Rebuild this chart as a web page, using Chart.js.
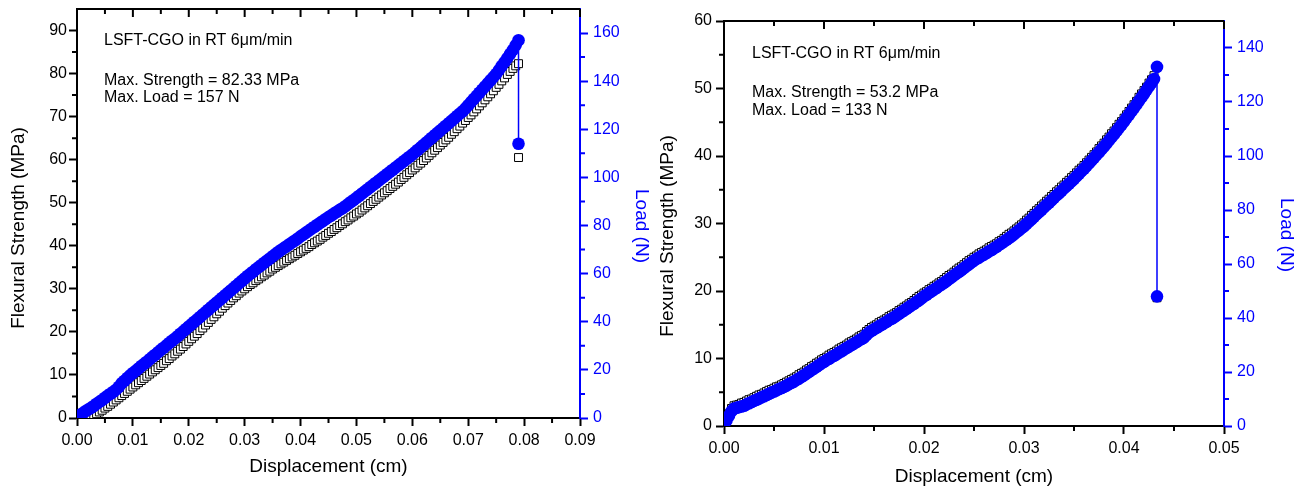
<!DOCTYPE html>
<html>
<head>
<meta charset="utf-8">
<script src="https://cdn.jsdelivr.net/npm/chart.js@4.4.1/dist/chart.umd.min.js"></script>
<style>
  html, body { margin: 0; padding: 0; background: #fff; }
  #wrap { position: relative; width: 1299px; height: 488px; overflow: hidden; }
  #left { position: absolute; left: 0; top: 0; }
  #right { position: absolute; left: 650px; top: 0; }
</style>
</head>
<body>
<div id="wrap">
  <canvas id="left" width="650" height="488"></canvas>
  <canvas id="right" width="649" height="488"></canvas>
</div>
<script>
// left panel: displacement (cm), flexural strength (MPa), load (N)
const leftDisp = [
  0, 0.0005, 0.001, 0.0015, 0.002, 0.0025, 0.003, 0.0035, 0.004, 0.0045,
  0.005, 0.0055, 0.006, 0.0065, 0.007, 0.0075, 0.008, 0.0085, 0.009, 0.0095,
  0.010, 0.0105, 0.011, 0.0115, 0.012, 0.0125, 0.013, 0.0135, 0.014, 0.0145,
  0.015, 0.0155, 0.016, 0.0165, 0.017, 0.0175, 0.018, 0.0185, 0.019, 0.0195,
  0.020, 0.0205, 0.021, 0.0215, 0.022, 0.0225, 0.023, 0.0235, 0.024, 0.0245,
  0.025, 0.0255, 0.026, 0.0265, 0.027, 0.0275, 0.028, 0.0285, 0.029, 0.0295,
  0.030, 0.0305, 0.031, 0.0315, 0.032, 0.0325, 0.033, 0.0335, 0.034, 0.0345,
  0.035, 0.0355, 0.036, 0.0365, 0.037, 0.0375, 0.038, 0.0385, 0.039, 0.0395,
  0.040, 0.0405, 0.041, 0.0415, 0.042, 0.0425, 0.043, 0.0435, 0.044, 0.0445,
  0.045, 0.0455, 0.046, 0.0465, 0.047, 0.0475, 0.048, 0.0485, 0.049, 0.0495,
  0.050, 0.0505, 0.051, 0.0515, 0.052, 0.0525, 0.053, 0.0535, 0.054, 0.0545,
  0.055, 0.0555, 0.056, 0.0565, 0.057, 0.0575, 0.058, 0.0585, 0.059, 0.0595,
  0.060, 0.0605, 0.061, 0.0615, 0.062, 0.0625, 0.063, 0.0635, 0.064, 0.0645,
  0.065, 0.0655, 0.066, 0.0665, 0.067, 0.0675, 0.068, 0.0685, 0.069, 0.0695,
  0.070, 0.0705, 0.071, 0.0715, 0.072, 0.0725, 0.073, 0.0735, 0.074, 0.0745,
  0.075, 0.0755, 0.076, 0.0765, 0.077, 0.0775, 0.078, 0.0785, 0.079, 0.079
];
const leftStrength = [
  null, null, null, null, 0.0, 0.3, 0.6, 1.0, 1.4, 1.8,
  2.3, 2.7, 3.2, 3.7, 4.2, 4.7, 5.2, 5.7, 6.2, 6.7,
  7.2, 7.7, 8.2, 8.7, 9.2, 9.7, 10.2, 10.7, 11.2, 11.7,
  12.2, 12.7, 13.3, 13.8, 14.4, 14.9, 15.5, 16.0, 16.6, 17.2,
  17.8, 18.4, 19.0, 19.6, 20.3, 20.9, 21.6, 22.2, 22.9, 23.5,
  24.2, 24.8, 25.5, 26.1, 26.7, 27.3, 27.9, 28.4, 29.0, 29.5,
  30.0, 30.5, 31.0, 31.4, 31.9, 32.3, 32.8, 33.2, 33.7, 34.1,
  34.6, 35.0, 35.4, 35.8, 36.2, 36.6, 37.0, 37.4, 37.8, 38.2,
  38.6, 39.0, 39.4, 39.8, 40.3, 40.7, 41.1, 41.5, 42.0, 42.4,
  42.9, 43.3, 43.8, 44.2, 44.7, 45.1, 45.6, 46.0, 46.5, 46.9,
  47.4, 47.8, 48.3, 48.8, 49.3, 49.8, 50.3, 50.8, 51.3, 51.8,
  52.3, 52.8, 53.3, 53.8, 54.3, 54.8, 55.4, 55.9, 56.5, 57.0,
  57.6, 58.1, 58.7, 59.2, 59.8, 60.4, 61.0, 61.6, 62.2, 62.8,
  63.4, 64.0, 64.6, 65.2, 65.9, 66.5, 67.2, 67.8, 68.5, 69.1,
  69.8, 70.4, 71.1, 71.8, 72.5, 73.2, 73.9, 74.6, 75.3, 76.0,
  76.8, 77.5, 78.3, 79.0, 79.8, 80.5, 81.2, 81.8, 82.3, 60.5
];
const leftLoad = [
  0.5, 1.2, 2.0, 2.8, 3.5, 4.2, 5.0, 5.9, 6.7, 7.5,
  8.4, 9.3, 10.1, 10.9, 11.8, 13.0, 14.5, 15.5, 16.6, 17.7,
  18.7, 19.6, 20.6, 21.6, 22.5, 23.4, 24.4, 25.4, 26.3, 27.3,
  28.3, 29.2, 30.2, 31.2, 32.1, 33.0, 34.0, 35.0, 36.0, 37.0,
  38.0, 39.0, 40.0, 41.0, 42.0, 43.0, 44.0, 45.0, 46.0, 47.0,
  48.0, 49.0, 50.0, 51.0, 52.0, 53.0, 54.0, 55.0, 56.0, 57.0,
  58.0, 59.0, 59.9, 60.8, 61.8, 62.7, 63.6, 64.5, 65.4, 66.3,
  67.2, 68.1, 69.0, 69.8, 70.6, 71.4, 72.2, 73.0, 73.8, 74.6,
  75.5, 76.3, 77.1, 77.9, 78.7, 79.5, 80.3, 81.1, 81.9, 82.7,
  83.5, 84.2, 85.0, 85.7, 86.5, 87.2, 88.0, 88.9, 89.8, 90.6,
  91.5, 92.4, 93.3, 94.2, 95.1, 96.0, 96.9, 97.8, 98.7, 99.6,
  100.5, 101.4, 102.3, 103.2, 104.1, 105.0, 105.9, 106.8, 107.7, 108.6,
  109.5, 110.5, 111.5, 112.5, 113.5, 114.5, 115.5, 116.5, 117.5, 118.5,
  119.5, 120.5, 121.5, 122.5, 123.5, 124.5, 125.5, 126.5, 127.5, 128.7,
  130.0, 131.3, 132.6, 133.9, 135.2, 136.5, 137.8, 139.1, 140.4, 141.7,
  143.0, 144.6, 146.3, 147.9, 149.6, 151.3, 153.0, 155.0, 157.0, 114.0
];

// right panel
const rightDisp = [
  0, 0.00025, 0.0005, 0.00075, 0.001, 0.00125, 0.0015, 0.00175,
  0.002, 0.00225, 0.0025, 0.00275, 0.003, 0.00325, 0.0035, 0.00375,
  0.004, 0.00425, 0.0045, 0.00475, 0.005, 0.00525, 0.0055, 0.00575,
  0.006, 0.00625, 0.0065, 0.00675, 0.007, 0.00725, 0.0075, 0.00775,
  0.008, 0.00825, 0.0085, 0.00875, 0.009, 0.00925, 0.0095, 0.00975,
  0.010, 0.01025, 0.0105, 0.01075, 0.011, 0.01125, 0.0115, 0.01175,
  0.012, 0.01225, 0.0125, 0.01275, 0.013, 0.01325, 0.0135, 0.01375,
  0.014, 0.01425, 0.0145, 0.01475, 0.015, 0.01525, 0.0155, 0.01575,
  0.016, 0.01625, 0.0165, 0.01675, 0.017, 0.01725, 0.0175, 0.01775,
  0.018, 0.01825, 0.0185, 0.01875, 0.019, 0.01925, 0.0195, 0.01975,
  0.020, 0.02025, 0.0205, 0.02075, 0.021, 0.02125, 0.0215, 0.02175,
  0.022, 0.02225, 0.0225, 0.02275, 0.023, 0.02325, 0.0235, 0.02375,
  0.024, 0.02425, 0.0245, 0.02475, 0.025, 0.02525, 0.0255, 0.02575,
  0.026, 0.02625, 0.0265, 0.02675, 0.027, 0.02725, 0.0275, 0.02775,
  0.028, 0.02825, 0.0285, 0.02875, 0.029, 0.02925, 0.0295, 0.02975,
  0.030, 0.03025, 0.0305, 0.03075, 0.031, 0.03125, 0.0315, 0.03175,
  0.032, 0.03225, 0.0325, 0.03275, 0.033, 0.03325, 0.0335, 0.03375,
  0.034, 0.03425, 0.0345, 0.03475, 0.035, 0.03525, 0.0355, 0.03575,
  0.036, 0.03625, 0.0365, 0.03675, 0.037, 0.03725, 0.0375, 0.03775,
  0.038, 0.03825, 0.0385, 0.03875, 0.039, 0.03925, 0.0395, 0.03975,
  0.040, 0.04025, 0.0405, 0.04075, 0.041, 0.04125, 0.0415, 0.04175,
  0.042, 0.04225, 0.0425, 0.04275, 0.043, 0.0433, 0.0433
];
const rightStrength = [
  0.3, 1.0, 1.8, 2.6, 3.0, 3.1, 3.2, 3.4,
  3.5, 3.7, 3.9, 4.0, 4.2, 4.4, 4.6, 4.7,
  4.9, 5.1, 5.3, 5.4, 5.6, 5.8, 5.9, 6.1,
  6.3, 6.5, 6.7, 6.9, 7.1, 7.3, 7.6, 7.8,
  8.0, 8.3, 8.5, 8.8, 9.0, 9.3, 9.5, 9.8,
  10.0, 10.2, 10.5, 10.7, 10.9, 11.1, 11.4, 11.6,
  11.8, 12.0, 12.3, 12.5, 12.7, 12.9, 13.2, 13.4,
  13.6, 14.0, 14.3, 14.6, 14.8, 15.0, 15.3, 15.5,
  15.7, 15.9, 16.2, 16.4, 16.6, 16.8, 17.1, 17.3,
  17.6, 17.8, 18.1, 18.3, 18.6, 18.9, 19.2, 19.4,
  19.7, 19.9, 20.2, 20.4, 20.7, 20.9, 21.2, 21.4,
  21.7, 22.0, 22.3, 22.5, 22.8, 23.1, 23.4, 23.6,
  23.9, 24.2, 24.5, 24.7, 25.0, 25.2, 25.5, 25.7,
  25.9, 26.1, 26.4, 26.6, 26.8, 27.0, 27.3, 27.5,
  27.8, 28.1, 28.4, 28.6, 28.9, 29.2, 29.5, 29.8,
  30.1, 30.5, 30.8, 31.2, 31.5, 31.9, 32.2, 32.6,
  32.9, 33.3, 33.6, 34.0, 34.3, 34.7, 35.0, 35.4,
  35.7, 36.1, 36.4, 36.8, 37.1, 37.5, 37.9, 38.2,
  38.6, 39.0, 39.4, 39.8, 40.2, 40.6, 41.1, 41.5,
  41.9, 42.4, 42.8, 43.3, 43.7, 44.2, 44.7, 45.1,
  45.6, 46.1, 46.6, 47.1, 47.6, 48.1, 48.7, 49.2,
  49.7, 50.2, 50.8, 51.3, 51.9, 53.2, 19.0
];
const rightLoad = [
  0.5, 2.0, 3.8, 5.5, 6.5, 6.7, 7.0, 7.2,
  7.5, 8.0, 8.4, 8.9, 9.3, 9.7, 10.2, 10.6,
  11.0, 11.5, 11.9, 12.4, 12.8, 13.2, 13.7, 14.1,
  14.5, 15.0, 15.5, 16.0, 16.5, 17.1, 17.6, 18.2,
  18.8, 19.4, 20.1, 20.7, 21.3, 21.9, 22.6, 23.2,
  23.8, 24.4, 24.9, 25.5, 26.0, 26.6, 27.2, 27.7,
  28.3, 28.9, 29.4, 30.0, 30.5, 31.1, 31.7, 32.2,
  32.8, 33.8, 34.6, 35.3, 35.8, 36.4, 36.9, 37.5,
  38.0, 38.6, 39.2, 39.7, 40.3, 40.9, 41.6, 42.2,
  42.8, 43.4, 44.1, 44.7, 45.3, 46.0, 46.6, 47.3,
  48.0, 48.6, 49.3, 49.9, 50.5, 51.1, 51.8, 52.4,
  53.0, 53.7, 54.4, 55.1, 55.8, 56.5, 57.1, 57.8,
  58.5, 59.2, 59.9, 60.6, 61.3, 61.9, 62.4, 63.0,
  63.5, 64.1, 64.7, 65.2, 65.8, 66.4, 67.1, 67.7,
  68.3, 69.0, 69.6, 70.3, 71.0, 71.8, 72.5, 73.3,
  74.0, 74.9, 75.7, 76.6, 77.5, 78.4, 79.2, 80.1,
  81.0, 81.9, 82.7, 83.6, 84.5, 85.4, 86.2, 87.1,
  88.0, 88.9, 89.7, 90.6, 91.5, 92.5, 93.4, 94.4,
  95.3, 96.3, 97.3, 98.3, 99.3, 100.4, 101.4, 102.5,
  103.5, 104.6, 105.8, 106.9, 108.0, 109.2, 110.4, 111.6,
  112.8, 114.1, 115.3, 116.6, 117.8, 119.1, 120.4, 121.7,
  123.0, 124.4, 125.8, 127.1, 128.5, 133.0, 48.0
];

// tick labels
const leftXTicks = [0, 0.01, 0.02, 0.03, 0.04, 0.05, 0.06, 0.07, 0.08, 0.09];
const leftYTicks = [0, 10, 20, 30, 40, 50, 60, 70, 80, 90];
const leftLoadTicks = [0, 20, 40, 60, 80, 100, 120, 140, 160];
const rightXTicks = [0, 0.01, 0.02, 0.03, 0.04, 0.05];
const rightYTicks = [0, 10, 20, 30, 40, 50, 60];
const rightLoadTicks = [0, 20, 40, 60, 80, 100, 120, 140];

const leftNotes = ['LSFT-CGO in RT 6\u03bcm/min', 'Max. Strength = 82.33 MPa', 'Max. Load = 157 N'];
const rightNotes = ['LSFT-CGO in RT 6\u03bcm/min', 'Max. Strength = 53.2 MPa', 'Max. Load = 133 N'];

const BLUE = '#0000ff';
const FONT = "'Liberation Sans', Arial, sans-serif";

function points(xs, ys) {
    return xs.map((x, i) => ({x: x, y: ys[i]})).filter(p => p.y !== null);
}

function mids(t) {
    const m = [];
    for (let i = 1; i < t.length; i++) m.push((t[i - 1] + t[i]) / 2);
    return m;
}

function setTicks(vals) {
    return scale => { scale.ticks = vals.map(v => ({value: v})); };
}

function fitBox(prop, size) {
    return scale => {
        scale[prop] = size;
        scale.paddingTop = 0;
        scale.paddingBottom = 0;
        scale.paddingLeft = 0;
        scale.paddingRight = 0;
    };
}

// minor ticks, mirrored top ticks, notes and y titles
function framePlugin(o) {
    return {
        id: 'frame',
        afterDraw(chart) {
            const {ctx, chartArea: a, scales} = chart;
            const x = scales.x, y = scales.y, y1 = scales.y1;
            ctx.save();
            ctx.lineWidth = 2;
            ctx.strokeStyle = '#000';
            ctx.beginPath();
            ctx.moveTo(a.left - 1, a.top);
            ctx.lineTo(a.right, a.top);
            o.xTicks.forEach(v => {
                const p = x.getPixelForValue(v);
                ctx.moveTo(p, a.top);
                ctx.lineTo(p, a.top + 8);
            });
            mids(o.xTicks).forEach(v => {
                const p = x.getPixelForValue(v);
                ctx.moveTo(p, a.top);
                ctx.lineTo(p, a.top + 5);
                ctx.moveTo(p, a.bottom);
                ctx.lineTo(p, a.bottom + 5);
            });
            mids(o.yTicks).forEach(v => {
                const p = y.getPixelForValue(v);
                ctx.moveTo(a.left - 5, p);
                ctx.lineTo(a.left, p);
            });
            ctx.stroke();

            ctx.strokeStyle = BLUE;
            ctx.beginPath();
            mids(o.loadTicks).forEach(v => {
                const p = y1.getPixelForValue(v);
                ctx.moveTo(a.right, p);
                ctx.lineTo(a.right + 5, p);
            });
            ctx.stroke();

            ctx.fillStyle = '#000';
            ctx.font = '16px ' + FONT;
            ctx.textAlign = 'left';
            ctx.textBaseline = 'middle';
            o.notes.forEach((t, i) => ctx.fillText(t, o.noteX, o.noteY[i]));

            ctx.font = '19px ' + FONT;
            ctx.textAlign = 'center';
            ctx.save();
            ctx.translate(o.yTitle[0], o.yTitle[1]);
            ctx.rotate(-Math.PI / 2);
            ctx.fillText('Flexural Strength (MPa)', 0, 0);
            ctx.restore();

            ctx.fillStyle = BLUE;
            ctx.save();
            ctx.translate(o.loadTitle[0], o.loadTitle[1]);
            ctx.rotate(Math.PI / 2);
            ctx.fillText('Load (N)', 0, 0);
            ctx.restore();
            ctx.restore();
        }
    };
}

function buildChart(id, o) {
    const tickFont = {family: FONT, size: 16};
    return new Chart(document.getElementById(id), {
        type: 'scatter',
        data: {
            datasets: [{
                label: 'Load',
                data: points(o.disp, o.load),
                yAxisID: 'y1',
                order: 0,
                showLine: true,
                borderColor: BLUE,
                borderWidth: 1.5,
                backgroundColor: BLUE,
                pointStyle: 'circle',
                pointRadius: 6.3,
                pointBorderWidth: 0,
                pointBackgroundColor: BLUE
            }, {
                label: 'Strength',
                data: points(o.disp, o.strength),
                yAxisID: 'y',
                order: 1,
                showLine: false,
                pointStyle: 'rect',
                pointRadius: 5.6,
                pointBorderWidth: 1,
                pointBorderColor: '#000',
                pointBackgroundColor: '#fff'
            }]
        },
        options: {
            responsive: false,
            animation: false,
            events: [],
            layout: {padding: {top: o.top, left: 0, right: 0, bottom: 0}},
            plugins: {legend: {display: false}, tooltip: {enabled: false}},
            scales: {
                x: {
                    type: 'linear',
                    position: 'bottom',
                    min: 0,
                    max: o.xTicks[o.xTicks.length - 1],
                    afterBuildTicks: setTicks(o.xTicks),
                    afterFit: fitBox('height', o.xAxisH),
                    border: {color: '#000', width: 2},
                    grid: {drawOnChartArea: false, drawTicks: true, tickLength: 8, tickWidth: 2, tickColor: '#000'},
                    ticks: {color: '#000', font: tickFont, padding: 5, maxRotation: 0, callback: v => v.toFixed(2)},
                    title: {display: true, text: 'Displacement (cm)', color: '#000', font: {family: FONT, size: 19}, padding: {top: 0, bottom: o.xTitlePad}}
                },
                y: {
                    type: 'linear',
                    position: 'left',
                    min: 0,
                    max: o.yMax,
                    afterBuildTicks: setTicks(o.yTicks),
                    afterFit: fitBox('width', o.yAxisW),
                    border: {color: '#000', width: 2},
                    grid: {drawOnChartArea: false, drawTicks: true, tickLength: 8, tickWidth: 2, tickColor: '#000'},
                    ticks: {color: '#000', font: tickFont, padding: o.yPad}
                },
                y1: {
                    type: 'linear',
                    position: 'right',
                    min: 0,
                    max: o.loadMax,
                    afterBuildTicks: setTicks(o.loadTicks),
                    afterFit: fitBox('width', o.loadAxisW),
                    border: {color: BLUE, width: 2},
                    grid: {drawOnChartArea: false, drawTicks: true, tickLength: 8, tickWidth: 2, tickColor: BLUE},
                    ticks: {color: BLUE, font: tickFont, padding: 5}
                }
            }
        },
        plugins: [framePlugin(o)]
    });
}

buildChart('left', {
    disp: leftDisp, strength: leftStrength, load: leftLoad,
    xTicks: leftXTicks, yTicks: leftYTicks, loadTicks: leftLoadTicks,
    yMax: 95, loadMax: 170,
    top: 9, xAxisH: 70, yAxisW: 77, loadAxisW: 70,
    yPad: 2, xTitlePad: 10,
    notes: leftNotes, noteX: 104, noteY: [41, 81, 98],
    yTitle: [19, 228], loadTitle: [641.5, 226]
});

buildChart('right', {
    disp: rightDisp, strength: rightStrength, load: rightLoad,
    xTicks: rightXTicks, yTicks: rightYTicks, loadTicks: rightLoadTicks,
    yMax: 60, loadMax: 150,
    top: 21, xAxisH: 62, yAxisW: 74, loadAxisW: 75,
    yPad: 4, xTitlePad: 0,
    notes: rightNotes, noteX: 102, noteY: [54, 92.5, 110.5],
    yTitle: [18, 236], loadTitle: [636, 235]
});
</script>
</body>
</html>
